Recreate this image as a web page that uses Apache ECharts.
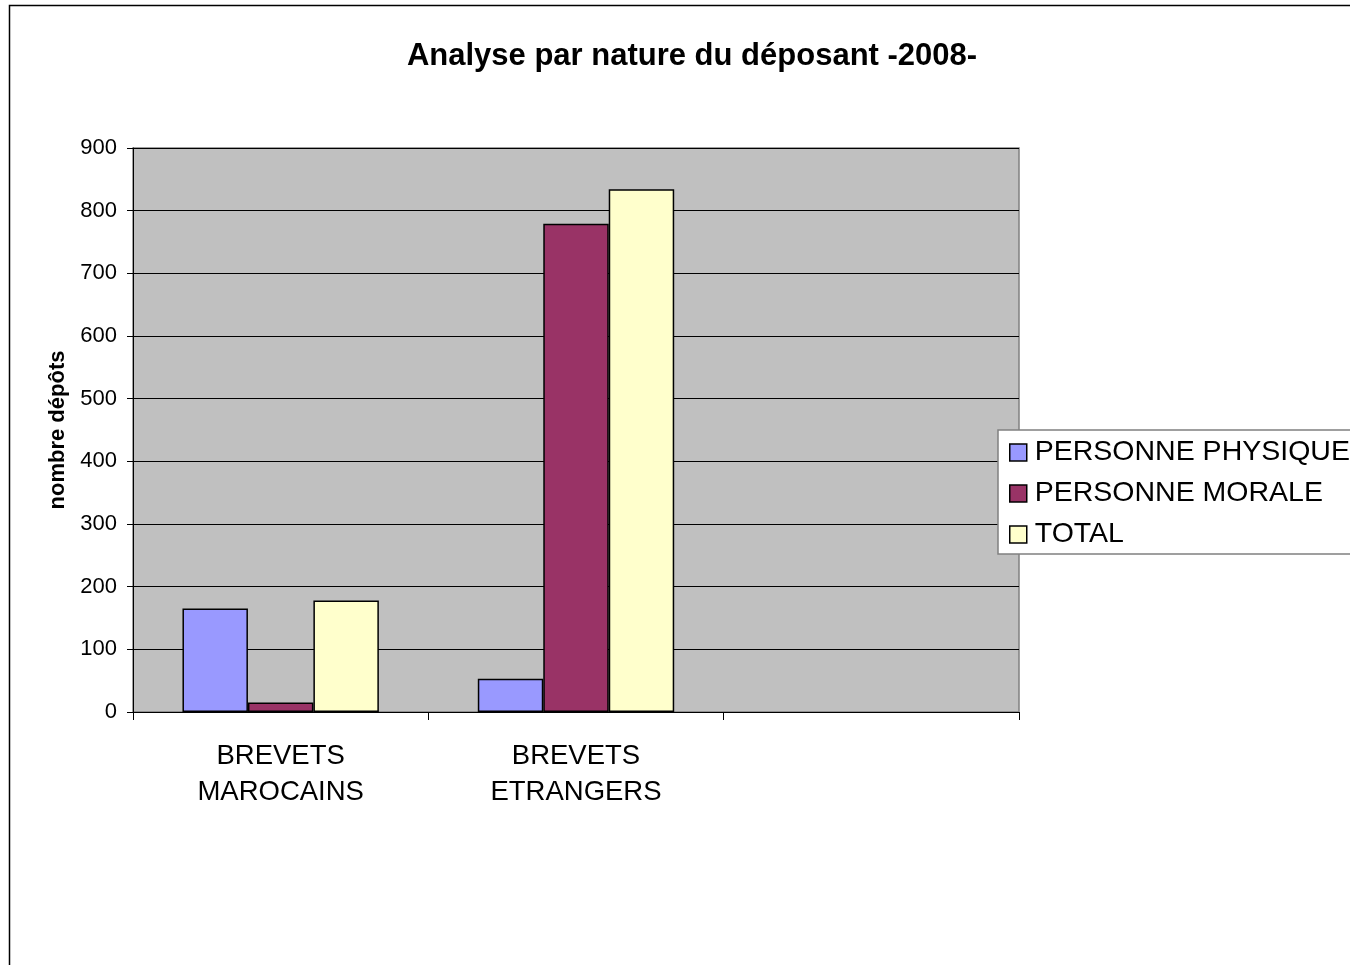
<!DOCTYPE html>
<html><head><meta charset="utf-8">
<script src="https://cdn.jsdelivr.net/npm/echarts@6/dist/echarts.min.js"></script>
<style>html,body{margin:0;padding:0;background:#fff}#c{width:1350px;height:965px}</style>
</head><body><div id="c"></div>
<script>
const categories = ['BREVETS\nMAROCAINS', 'BREVETS\nETRANGERS', ''];
const personnePhysique = [165, 53, null];
const personneMorale = [15, 779, null];
const total = [178, 834, null];
const seriesNames = ['PERSONNE PHYSIQUE', 'PERSONNE MORALE', 'TOTAL'];
const colors = ['#9999FF', '#993366', '#FFFFCC'];

const chart = echarts.init(document.getElementById('c'));
const font = 'Liberation Sans, Arial, sans-serif';
const mk = (name, data, color) => ({
  name, type: 'bar', data,
  barGap: '0%', barCategoryGap: '33.5%',
  itemStyle: { color, borderColor: '#000', borderWidth: 1.5 },
  emphasis: { disabled: true }
});
chart.setOption({
  animation: false,
  textStyle: { fontFamily: font },
  title: {
    text: 'Analyse par nature du déposant -2008-',
    left: 687, top: 36, textAlign: 'center',
    textStyle: { fontFamily: font, fontSize: 31, fontWeight: 'bold', color: '#000' }
  },
  graphic: [{
    type: 'rect', left: 7, top: 3, silent: true,
    shape: { x: 0, y: 0, width: 1360, height: 980 },
    style: { fill: 'none', stroke: '#000', lineWidth: 1.5 }
  }],
  legend: {
    orient: 'vertical', left: 998, top: 430,
    backgroundColor: '#fff', borderColor: '#808080', borderWidth: 1.5,
    padding: [8, 20, 5, 11],
    itemWidth: 17, itemHeight: 17, itemGap: 12,
    icon: 'rect',
    itemStyle: { borderColor: '#000', borderWidth: 1.5 },
    textStyle: { fontFamily: font, fontSize: 28.5, color: '#000', padding: [0, 0, 0, 3] },
    data: seriesNames
  },
  grid: {
    left: 133, right: 331, top: 148, bottom: 253,
    show: true, backgroundColor: '#C0C0C0', borderColor: '#808080', borderWidth: 1.5
  },
  xAxis: {
    type: 'category', data: categories,
    axisLine: { lineStyle: { color: '#000', width: 1 } },
    axisTick: { show: true, length: 8, alignWithLabel: false, interval: 0, lineStyle: { color: '#000' } },
    axisLabel: { interval: 0, fontFamily: font, fontSize: 27.5, lineHeight: 36, color: '#000', margin: 26 }
  },
  yAxis: {
    type: 'value', min: 0, max: 900, interval: 100,
    name: 'nombre dépôts', nameLocation: 'middle', nameGap: 64, nameRotate: 90,
    nameTextStyle: { fontFamily: font, fontSize: 22, fontWeight: 'bold', color: '#000' },
    axisLine: { show: true, lineStyle: { color: '#000', width: 1 } },
    axisTick: { show: true, length: 6, lineStyle: { color: '#000' } },
    axisLabel: { fontFamily: font, fontSize: 22, color: '#000', margin: 16 },
    splitLine: { show: true, lineStyle: { color: '#000', width: 1 } }
  },
  series: [
    mk(seriesNames[0], personnePhysique, colors[0]),
    mk(seriesNames[1], personneMorale, colors[1]),
    mk(seriesNames[2], total, colors[2])
  ]
});
</script></body></html>
